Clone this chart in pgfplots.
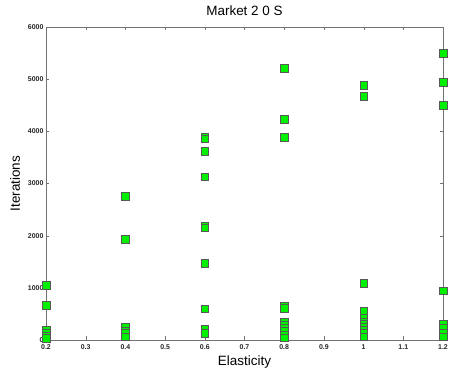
\documentclass[border=0pt]{standalone}
\usepackage{pgfplots}
\pgfplotsset{compat=1.18}
\usepackage{fontspec}
\setmainfont{Liberation Sans}
\definecolor{mk}{RGB}{0,240,0}
\begin{document}
\begin{tikzpicture}
\useasboundingbox (-46bp,-34bp) rectangle (405bp,340bp);
\begin{axis}[
  scale only axis,
  width=397bp, height=313bp,
  xmin=0.2, xmax=1.2, ymin=0, ymax=6000,
  xtick={0.2,0.3,...,1.2},
  ytick={0,1000,...,6000},
  tick align=inside,
  major tick length=3.5bp,
  axis line style={black!55},
  tick style={black!55},
  every tick label/.append style={font=\fontsize{7}{8}\selectfont\bfseries, text=black!85},
  /pgf/number format/assume math mode=true,
  /pgf/number format/1000 sep={},
  xticklabel style={yshift=-1pt},
  yticklabel style={xshift=1pt},
  title={Market 2 0 S},
  title style={font=\fontsize{13.5}{15}\selectfont, yshift=1.5pt},
  xlabel={Elasticity},
  ylabel={Iterations},
  label style={font=\fontsize{13.5}{15}\selectfont},
  xlabel style={yshift=1pt},
  ylabel style={yshift=1pt},
  clip=false,
]
\addplot[only marks, mark=square*, mark size=3.8bp, mark options={fill=mk, draw=black!65, line width=0.6pt}] coordinates {
(0.2,1050) (0.2,670) (0.2,190) (0.2,130) (0.2,80) (0.2,30)
(0.4,2750) (0.4,1930) (0.4,250) (0.4,180) (0.4,130) (0.4,60)
(0.6,3890) (0.6,3860) (0.6,3620) (0.6,3125) (0.6,2180) (0.6,2150) (0.6,1470) (0.6,595) (0.6,200) (0.6,130)
(0.8,5210) (0.8,4230) (0.8,3890) (0.8,650) (0.8,610) (0.8,345) (0.8,280) (0.8,230) (0.8,170) (0.8,100) (0.8,40)
(1.0,4880) (1.0,4670) (1.0,1090) (1.0,555) (1.0,420) (1.0,345) (1.0,300) (1.0,250) (1.0,190) (1.0,130) (1.0,60)
(1.2,5500) (1.2,4940) (1.2,4500) (1.2,940) (1.2,300) (1.2,230) (1.2,130) (1.2,60)
};
\end{axis}
\end{tikzpicture}
\end{document}
